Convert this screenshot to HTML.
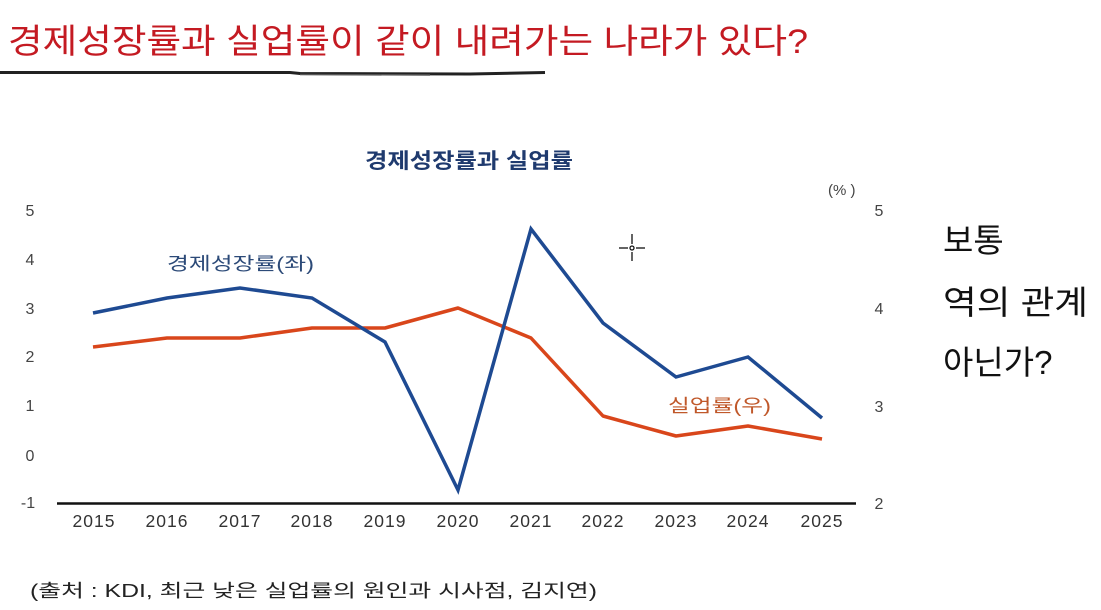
<!DOCTYPE html>
<html>
<head>
<meta charset="utf-8">
<style>
  html,body{margin:0;padding:0;background:#fff;}
  body{width:1101px;height:610px;overflow:hidden;position:relative;font-family:"Liberation Sans","Noto Sans CJK KR",sans-serif;}
  svg{position:absolute;left:0;top:0;}
</style>
</head>
<body>
<svg width="1101" height="610" viewBox="0 0 1101 610" xmlns="http://www.w3.org/2000/svg">
  <!-- Top title -->
  <text x="8" y="53" font-family="'Liberation Sans','Noto Sans CJK KR',sans-serif" font-size="34" fill="#c41a22" textLength="800" lengthAdjust="spacingAndGlyphs">경제성장률과 실업률이 같이 내려가는 나라가 있다?</text>
  <!-- brush underline -->
  <path d="M0 72.5 L290 72.5 L300 73.5 L470 74 L545 72.5" stroke="#222" stroke-width="3" fill="none"/>
  <path d="M300 74.5 L430 75" stroke="#555" stroke-width="1.5" fill="none"/>

  <!-- Chart title -->
  <text x="365" y="168" font-family="'Liberation Sans','Noto Sans CJK KR',sans-serif" font-size="21" font-weight="bold" fill="#1f3a6e" textLength="208" lengthAdjust="spacingAndGlyphs">경제성장률과 실업률</text>

  <!-- (%) -->
  <text x="828" y="195" font-size="15" fill="#444" font-family="'Liberation Sans',sans-serif">(% )</text>

  <!-- Left axis labels -->
  <g font-family="'Liberation Sans',sans-serif" font-size="16" fill="#444" text-anchor="middle">
    <text x="30" y="216">5</text>
    <text x="30" y="265">4</text>
    <text x="30" y="314">3</text>
    <text x="30" y="362">2</text>
    <text x="30" y="411">1</text>
    <text x="30" y="461">0</text>
    <text x="28" y="508">-1</text>
  </g>
  <!-- Right axis labels -->
  <g font-family="'Liberation Sans',sans-serif" font-size="16" fill="#444" text-anchor="middle">
    <text x="879" y="216">5</text>
    <text x="879" y="314">4</text>
    <text x="879" y="412">3</text>
    <text x="879" y="509">2</text>
  </g>

  <!-- x axis -->
  <line x1="57" y1="503.5" x2="856" y2="503.5" stroke="#111" stroke-width="2.5"/>
  <g font-family="'Liberation Sans',sans-serif" font-size="17.5" fill="#333" text-anchor="middle" letter-spacing="1">
    <text x="94" y="527">2015</text>
    <text x="167" y="527">2016</text>
    <text x="240" y="527">2017</text>
    <text x="312" y="527">2018</text>
    <text x="385" y="527">2019</text>
    <text x="458" y="527">2020</text>
    <text x="531" y="527">2021</text>
    <text x="603" y="527">2022</text>
    <text x="676" y="527">2023</text>
    <text x="748" y="527">2024</text>
    <text x="822" y="527">2025</text>
  </g>

  <!-- Series: unemployment (orange) -->
  <polyline fill="none" stroke="#d9461b" stroke-width="3.5" stroke-linejoin="round"
    points="93,347 167,338 240,338 312,328 385,328 458,308 531,338 603,416 676,436 748,426 822,439"/>
  <!-- Series: growth (blue) -->
  <polyline fill="none" stroke="#1e4a92" stroke-width="3.5" stroke-linejoin="miter"
    points="93,313 167,298 240,288 312,298 385,342 458,490 531,229 603,323 676,377 748,357 822,418"/>

  <!-- Legend labels -->
  <text x="167" y="270" font-family="'Liberation Sans','Noto Sans CJK KR',sans-serif" font-size="18" fill="#2c4a78" textLength="147" lengthAdjust="spacingAndGlyphs">경제성장률(좌)</text>
  <text x="668" y="412" font-family="'Liberation Sans','Noto Sans CJK KR',sans-serif" font-size="18" fill="#c0582a" textLength="103" lengthAdjust="spacingAndGlyphs">실업률(우)</text>

  <!-- cursor crosshair -->
  <g stroke="#111" stroke-width="1.3" fill="none">
    <line x1="632" y1="234" x2="632" y2="244"/>
    <line x1="632" y1="252" x2="632" y2="261"/>
    <line x1="619" y1="248" x2="628" y2="248"/>
    <line x1="636" y1="248" x2="645" y2="248"/>
    <circle cx="632" cy="248" r="2"/>
  </g>

  <!-- Right commentary -->
  <g font-family="'Liberation Sans','Noto Sans CJK KR',sans-serif" font-size="33" fill="#111">
    <text x="943" y="252">보통</text>
    <text x="943" y="314" textLength="145" lengthAdjust="spacingAndGlyphs">역의 관계</text>
    <text x="943" y="374">아닌가?</text>
  </g>

  <!-- Footer -->
  <text x="30" y="597" font-family="'Liberation Sans','Noto Sans CJK KR',sans-serif" font-size="18" fill="#222" textLength="567" lengthAdjust="spacingAndGlyphs">(출처 : KDI, 최근 낮은 실업률의 원인과 시사점, 김지연)</text>
</svg>
</body>
</html>
